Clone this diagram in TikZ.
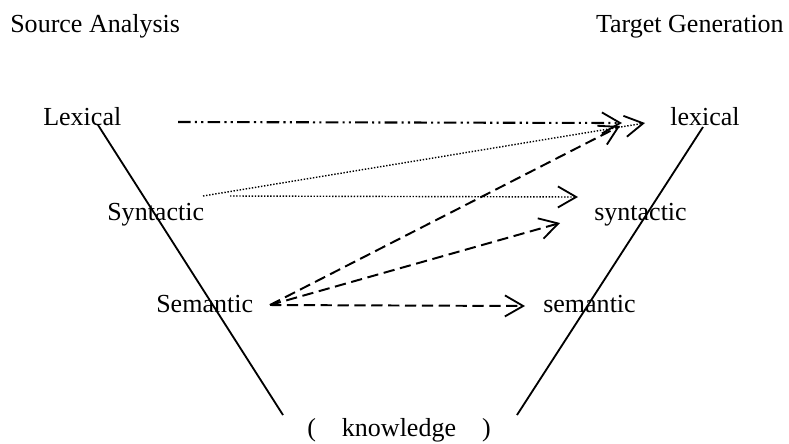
\documentclass[tikz,border=0pt]{standalone}
\usepackage{fontspec}
\setmainfont{Liberation Serif}
\usetikzlibrary{arrows.meta}
\tikzset{
  lbl/.style={anchor=base west, inner sep=0pt, font=\fontsize{18.5}{22}\selectfont},
  vline/.style={line width=1.3pt},
  barb/.style={-{Straight Barb[length=13pt,width=15pt,line width=1.3pt]}},
  dashdotline/.style={barb, line width=1.5pt, dash pattern=on 9pt off 3pt on 1.5pt off 3pt on 1.5pt off 3pt},
  dotline/.style={barb, line width=1pt, dash pattern=on 1pt off 1.2pt},
  dashline/.style={barb, line width=1.4pt, dash pattern=on 8pt off 4pt}
}
\begin{document}
\begin{tikzpicture}[x=0.025cm, y=-0.025cm]
\useasboundingbox (0,0) rectangle (789,443);
% headings
\node[lbl] (src) at (10,32) {Source Analysis};
\node[lbl, anchor=base east] (tgt) at (784,32) {Target Generation};
% levels
\node[lbl] (Lex) at (43,125) {Lexical};
\node[lbl] (Syn) at (107,220) {Syntactic};
\node[lbl] (Sem) at (156,312) {Semantic};
\node[lbl] (lex) at (670,125) {lexical};
\node[lbl] (syn) at (594,220) {syntactic};
\node[lbl] (sem) at (543,312) {semantic};
\node[lbl] (know) at (307,436) {(\quad knowledge\quad )};
% the V
\coordinate (srcTop) at (98,125);
\coordinate (srcBot) at (283,415);
\coordinate (tgtTop) at (703,127);
\coordinate (tgtBot) at (517,415);
\draw[vline] (srcTop) -- (srcBot);
\draw[vline] (tgtTop) -- (tgtBot);
% arrow ends
\coordinate (lexOut) at (178,122);
\coordinate (synOut) at (203,196);
\coordinate (synOut2) at (230,196);
\coordinate (semOut) at (270,305);
\coordinate (lexIn) at (622,123);
\coordinate (lexIn2) at (645,123);
\coordinate (lexIn3) at (620,126);
\coordinate (synIn) at (578,197);
\coordinate (synIn2) at (560,223);
\coordinate (semIn) at (525,306);
\draw[dashdotline] (lexOut) -- (lexIn);
\draw[dotline] (synOut) -- (lexIn2);
\draw[dotline] (synOut2) -- (synIn);
\draw[dashline] (semOut) -- (lexIn3);
\draw[dashline] (semOut) -- (synIn2);
\draw[dashline] (semOut) -- (semIn);
\end{tikzpicture}
\end{document}
